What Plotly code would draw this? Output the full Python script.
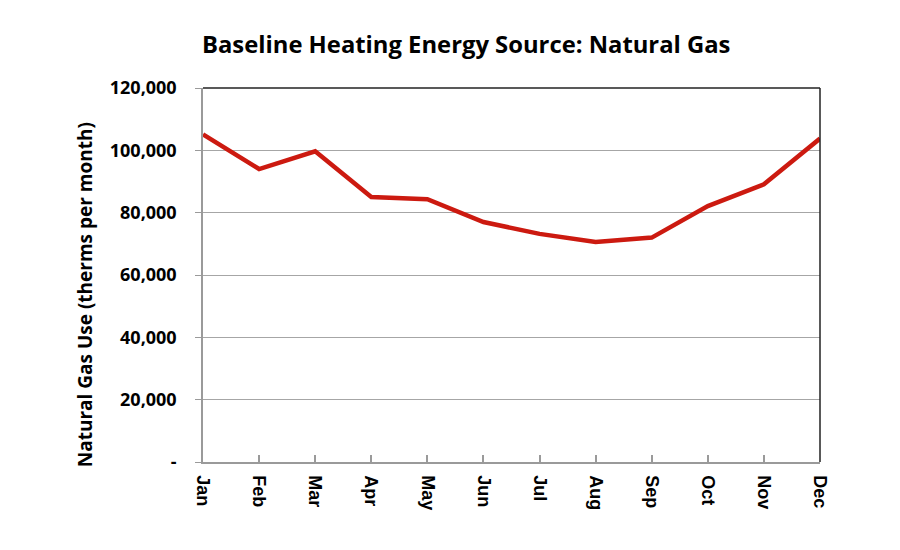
import plotly.graph_objects as go

months = ["Jan", "Feb", "Mar", "Apr", "May", "Jun", "Jul", "Aug", "Sep", "Oct", "Nov", "Dec"]
gas_use = [105100, 94000, 99700, 85000, 84300, 77000, 73200, 70600, 72000, 82100, 89100, 103800]
y_tickvals = [0, 20000, 40000, 60000, 80000, 100000, 120000]
y_ticktext = ["-", "20,000", "40,000", "60,000", "80,000", "100,000", "120,000"]

FONT = "Open Sans"
XFONT = "Liberation Sans"

fig = go.Figure()
fig.add_trace(go.Scatter(
    x=months, y=gas_use, mode="lines",
    line=dict(color="#CC1A10", width=4.5),
    hoverinfo="x+y", showlegend=False,
))

fig.update_layout(
    width=900, height=550,
    margin=dict(l=203, r=80, t=88, b=88),
    paper_bgcolor="white", plot_bgcolor="white",
    font=dict(family=FONT, color="black"),
    title=dict(
        text="<b>Baseline Heating Energy Source: Natural Gas</b>",
        x=0.518, xref="container", xanchor="center",
        y=0.918, yref="container", yanchor="middle",
        font=dict(family=FONT, size=23.8, color="black"),
    ),
    xaxis=dict(
        type="category", range=[0, 11],
        showgrid=False, showline=True, linecolor="#9a9a9a", linewidth=1.5,
        ticks="inside", ticklen=7, tickcolor="#9a9a9a", tickwidth=1.5,
        tickangle=90,
        tickfont=dict(family=XFONT, size=18, color="black", weight="bold"),
        ticklabelstandoff=8,
        zeroline=False,
    ),
    yaxis=dict(
        range=[0, 120000],
        tickvals=y_tickvals, ticktext=y_ticktext,
        showgrid=True, gridcolor="#a6a6a6", gridwidth=1.2,
        showline=True, linecolor="#9a9a9a", linewidth=1.5,
        ticks="outside", ticklen=6, tickcolor="#9a9a9a",
        tickfont=dict(family=FONT, size=18, color="black", weight="bold"),
        ticklabelstandoff=15,
        zeroline=False,
    ),
    annotations=[
        dict(
            text="<b>Natural Gas Use (therms per month)</b>",
            xref="paper", yref="paper", x=-0.191, y=0.4465,
            xanchor="center", yanchor="middle", textangle=-90,
            showarrow=False,
            font=dict(family=FONT, size=19, color="black"),
        )
    ],
    shapes=[
        dict(type="line", xref="paper", yref="paper", x0=0, x1=1, y0=1, y1=1,
             line=dict(color="#222222", width=1.5)),
        dict(type="line", xref="paper", yref="paper", x0=1, x1=1, y0=0, y1=1,
             line=dict(color="#222222", width=1.5)),
    ],
)

fig.write_html("out.html")
